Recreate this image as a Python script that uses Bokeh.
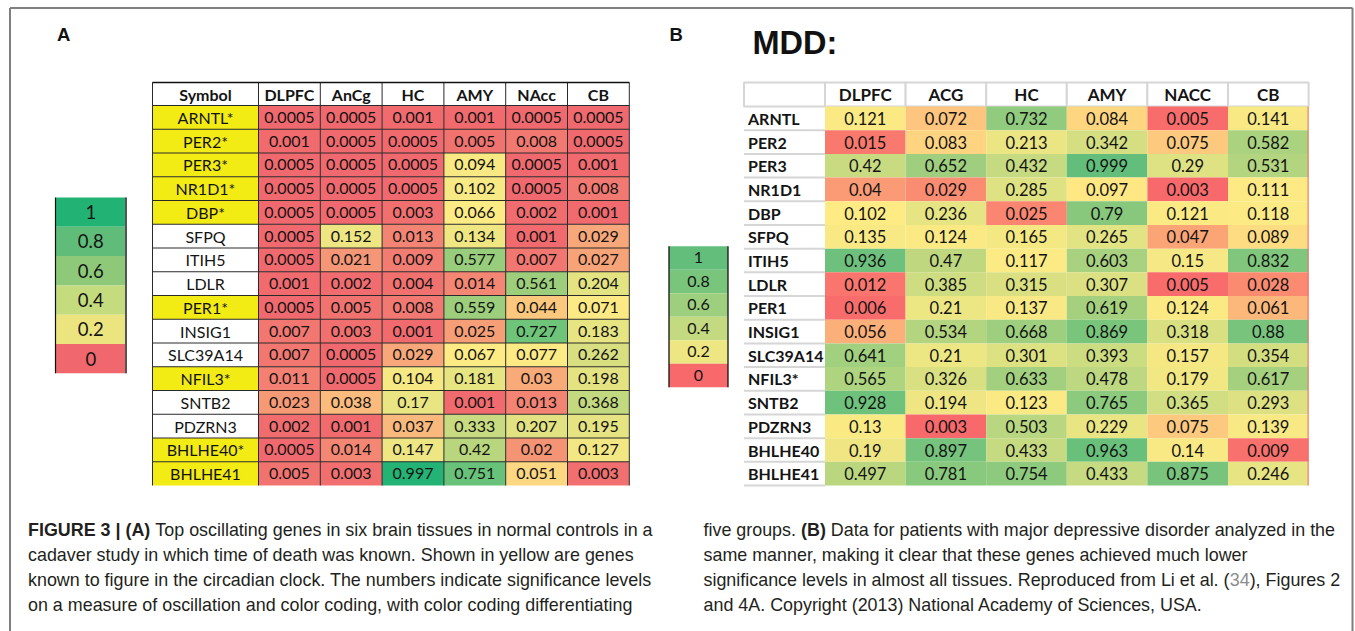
import numpy as np
from bokeh.plotting import figure
from bokeh.models import Range1d, ColumnDataSource
from bokeh.core.properties import value
from bokeh.embed import file_html
from bokeh.resources import INLINE

# ---------------- data ----------------
tissues_A = ["DLPFC", "AnCg", "HC", "AMY", "NAcc", "CB"]
genes_A = ["ARNTL*", "PER2*", "PER3*", "NR1D1*", "DBP*", "SFPQ", "ITIH5", "LDLR",
           "PER1*", "INSIG1", "SLC39A14", "NFIL3*", "SNTB2", "PDZRN3", "BHLHE40*", "BHLHE41"]
clock_A = [True, True, True, True, True, False, False, False,
           True, False, False, True, False, False, True, True]
vals_A = [
    [0.0005, 0.0005, 0.001, 0.001, 0.0005, 0.0005],
    [0.001, 0.0005, 0.0005, 0.005, 0.008, 0.0005],
    [0.0005, 0.0005, 0.0005, 0.094, 0.0005, 0.001],
    [0.0005, 0.0005, 0.0005, 0.102, 0.0005, 0.008],
    [0.0005, 0.0005, 0.003, 0.066, 0.002, 0.001],
    [0.0005, 0.152, 0.013, 0.134, 0.001, 0.029],
    [0.0005, 0.021, 0.009, 0.577, 0.007, 0.027],
    [0.001, 0.002, 0.004, 0.014, 0.561, 0.204],
    [0.0005, 0.005, 0.008, 0.559, 0.044, 0.071],
    [0.007, 0.003, 0.001, 0.025, 0.727, 0.183],
    [0.007, 0.0005, 0.029, 0.067, 0.077, 0.262],
    [0.011, 0.0005, 0.104, 0.181, 0.03, 0.198],
    [0.023, 0.038, 0.17, 0.001, 0.013, 0.368],
    [0.002, 0.001, 0.037, 0.333, 0.207, 0.195],
    [0.0005, 0.014, 0.147, 0.42, 0.02, 0.127],
    [0.005, 0.003, 0.997, 0.751, 0.051, 0.003],
]

tissues_B = ["DLPFC", "ACG", "HC", "AMY", "NACC", "CB"]
genes_B = ["ARNTL", "PER2", "PER3", "NR1D1", "DBP", "SFPQ", "ITIH5", "LDLR",
           "PER1", "INSIG1", "SLC39A14", "NFIL3*", "SNTB2", "PDZRN3", "BHLHE40", "BHLHE41"]
vals_B = [
    [0.121, 0.072, 0.732, 0.084, 0.005, 0.141],
    [0.015, 0.083, 0.213, 0.342, 0.075, 0.582],
    [0.42, 0.652, 0.432, 0.999, 0.29, 0.531],
    [0.04, 0.029, 0.285, 0.097, 0.003, 0.111],
    [0.102, 0.236, 0.025, 0.79, 0.121, 0.118],
    [0.135, 0.124, 0.165, 0.265, 0.047, 0.089],
    [0.936, 0.47, 0.117, 0.603, 0.15, 0.832],
    [0.012, 0.385, 0.315, 0.307, 0.005, 0.028],
    [0.006, 0.21, 0.137, 0.619, 0.124, 0.061],
    [0.056, 0.534, 0.668, 0.869, 0.318, 0.88],
    [0.641, 0.21, 0.301, 0.393, 0.157, 0.354],
    [0.565, 0.326, 0.633, 0.478, 0.179, 0.617],
    [0.928, 0.194, 0.123, 0.765, 0.365, 0.293],
    [0.13, 0.003, 0.503, 0.229, 0.075, 0.139],
    [0.19, 0.897, 0.433, 0.963, 0.14, 0.009],
    [0.497, 0.781, 0.754, 0.433, 0.875, 0.246],
]

legend_levels = ["1", "0.8", "0.6", "0.4", "0.2", "0"]
legend_colors_A = ["#22b374", "#60bc79", "#8dc978", "#c4db7e", "#ece57f", "#f0686e"]
legend_colors_B = ["#63be7b", "#7ac57c", "#9ecf7e", "#c4da80", "#ede683", "#f8696b"]

# colour-scale stops (styling)
stops_A = ([0.0, 0.06, 0.56, 1.0], ["#f0686e", "#ffeb84", "#9dce7c", "#22b374"])
stops_B = ([0.003, 0.1, 1.0], ["#f8696b", "#ffeb84", "#63be7b"])

caption_left = [
    [("FIGURE 3 | (A)", "b"), (" Top oscillating genes in six brain tissues in normal controls in a", "r")],
    [("cadaver study in which time of death was known. Shown in yellow are genes", "r")],
    [("known to figure in the circadian clock. The numbers indicate significance levels", "r")],
    [("on a measure of oscillation and color coding, with color coding differentiating", "r")],
]
caption_right = [
    [("five groups. ", "r"), ("(B)", "b"), (" Data for patients with major depressive disorder analyzed in the", "r")],
    [("same manner, making it clear that these genes achieved much lower", "r")],
    [("significance levels in almost all tissues. Reproduced from Li et al. (", "r"), ("34", "g"), ("), Figures 2", "r")],
    [("and 4A. Copyright (2013) National Academy of Sciences, USA.", "r")],
]


# ---------------- helpers ----------------
def hex2rgb(h):
    return tuple(int(h[i:i + 2], 16) for i in (1, 3, 5))


def ramp(v, stops):
    xs, cols = stops
    rgbs = [hex2rgb(c) for c in cols]
    if v <= xs[0]:
        return cols[0]
    for k in range(len(xs) - 1):
        if v <= xs[k + 1]:
            t = (v - xs[k]) / (xs[k + 1] - xs[k])
            c = [int(round(a + (b - a) * t)) for a, b in zip(rgbs[k], rgbs[k + 1])]
            return "#%02x%02x%02x" % tuple(c)
    return cols[-1]


# Arial / Liberation Sans advance widths (1/1000 em)
AR = {' ': 278, '!': 278, '"': 355, '#': 556, '$': 556, '%': 889, '&': 667, "'": 191, '(': 333, ')': 333,
      '*': 389, '+': 584, ',': 278, '-': 333, '.': 278, '/': 278, ':': 278, ';': 278, '?': 556, '|': 260}
for ch in "0123456789":
    AR[ch] = 556
for ch, w in zip("ABCDEFGHIJKLMNOPQRSTUVWXYZ",
                 [667, 667, 722, 722, 667, 611, 778, 722, 278, 500, 667, 556, 833, 722, 778, 667, 778, 722,
                  667, 611, 722, 667, 944, 667, 667, 611]):
    AR[ch] = w
for ch, w in zip("abcdefghijklmnopqrstuvwxyz",
                 [556, 556, 500, 556, 556, 278, 556, 556, 222, 222, 500, 222, 833, 556, 556, 556, 556, 333,
                  500, 278, 556, 500, 722, 500, 500, 500]):
    AR[ch] = w
AB = dict(AR)
AB.update({'|': 280, '!': 333})
for ch in "ABCDKNRUVXY":
    AB[ch] = 722 if ch in "ABCDNRU" else 667


def tw(s, bold, size):
    tbl = AB if bold else AR
    return sum(tbl.get(c, 556) for c in s) * size / 1000.0


def fmt(v):
    return repr(v)


# ---------------- figure (data units == screen pixels) ----------------
W, H = 1355, 631
p = figure(width=W, height=H, x_range=Range1d(0, W), y_range=Range1d(H, 0),
           output_backend="svg", toolbar_location=None, tools="", min_border=0,
           x_axis_location=None, y_axis_location=None, title=None)
p.grid.visible = False
p.outline_line_color = None
p.background_fill_color = "white"
p.border_fill_color = "white"

TF = value("Lato")
CF = value("Liberation Sans")
INK = "#141414"

# outer frame
p.segment(x0=[9.5, 9.5, 1352], y0=[7.5, 7.5, 7.5], x1=[1352, 9.5, 1352], y1=[7.5, 640, 640],
          line_color="#7f7f7f", line_width=2)

# ---------------- Table A ----------------
nA, mA = len(genes_A), len(tissues_A)
A_x0, A_sym_w, A_col_w = 152.0, 106.0, 61.8
A_y0, A_head_h, A_row_h = 82.0, 23.0, 23.75
A_right = A_x0 + A_sym_w + mA * A_col_w
A_body = A_y0 + A_head_h
A_bottom = A_body + nA * A_row_h

cl, cr, ct, cb, cc, tx, ty, tt = [], [], [], [], [], [], [], []
for i in range(nA):
    for j in range(mA):
        l = A_x0 + A_sym_w + j * A_col_w
        t = A_body + i * A_row_h
        cl.append(l); cr.append(l + A_col_w); ct.append(t); cb.append(t + A_row_h)
        cc.append(ramp(vals_A[i][j], stops_A))
        tx.append(l + A_col_w / 2); ty.append(t + A_row_h / 2); tt.append(fmt(vals_A[i][j]))
p.quad(left=cl, right=cr, top=ct, bottom=cb, fill_color=cc, line_color=None)
# symbol column
p.quad(left=[A_x0] * nA, right=[A_x0 + A_sym_w] * nA,
       top=[A_body + i * A_row_h for i in range(nA)],
       bottom=[A_body + (i + 1) * A_row_h for i in range(nA)],
       fill_color=["#f3eb14" if c else "white" for c in clock_A], line_color=None)
# grid
vx = [A_x0, A_x0 + A_sym_w] + [A_x0 + A_sym_w + (j + 1) * A_col_w for j in range(mA)]
p.segment(x0=vx, y0=[A_y0] * len(vx), x1=vx, y1=[A_bottom] * len(vx), line_color="#2a2a2a", line_width=1)
hy = [A_y0, A_body] + [A_body + (i + 1) * A_row_h for i in range(nA - 1)]
p.segment(x0=[A_x0] * len(hy), y0=hy, x1=[A_right] * len(hy), y1=hy, line_color="#2a2a2a", line_width=1)
p.segment(x0=[A_x0], y0=[A_y0], x1=[A_right], y1=[A_y0], line_color="#111111", line_width=1.6)
# texts
p.text(x=tx, y=ty, text=tt, text_font=TF, text_font_size="16px", text_align="center",
       text_baseline="middle", text_color=INK)
p.text(x=[A_x0 + A_sym_w / 2] * nA, y=[A_body + (i + 0.5) * A_row_h for i in range(nA)], text=genes_A,
       text_font=TF, text_font_size="16px", text_align="center", text_baseline="middle", text_color=INK)
p.text(x=[A_x0 + A_sym_w / 2] + [A_x0 + A_sym_w + (j + 0.5) * A_col_w for j in range(mA)],
       y=[A_y0 + A_head_h / 2] * (mA + 1), text=["Symbol"] + tissues_A,
       text_font=TF, text_font_size="16px", text_font_style="bold", text_align="center",
       text_baseline="middle", text_color=INK)

# ---------------- Legend A ----------------
LA_x0, LA_x1, LA_y0, LA_h = 55.0, 125.5, 197.0, 29.3
nL = len(legend_levels)
p.quad(left=[LA_x0] * nL, right=[LA_x1] * nL, top=[LA_y0 + k * LA_h for k in range(nL)],
       bottom=[LA_y0 + (k + 1) * LA_h for k in range(nL)], fill_color=legend_colors_A, line_color=None)
p.segment(x0=[LA_x0, LA_x1], y0=[LA_y0, LA_y0], x1=[LA_x0, LA_x1], y1=[LA_y0 + nL * LA_h] * 2,
          line_color=["#111111", "#555555"], line_width=[1.2, 2])
p.text(x=[(LA_x0 + LA_x1) / 2] * nL, y=[LA_y0 + (k + 0.5) * LA_h for k in range(nL)], text=legend_levels,
       text_font=TF, text_font_size="18.5px", text_align="center", text_baseline="middle", text_color=INK)

# ---------------- Table B ----------------
nB, mB = len(genes_B), len(tissues_B)
B_x0, B_lab_w, B_col_w = 743.5, 81.0, 80.6
B_y0, B_head_h, B_row_h = 82.0, 24.0, 23.69
B_right = B_x0 + B_lab_w + mB * B_col_w
B_body = B_y0 + B_head_h
B_bottom = B_body + nB * B_row_h

# header cells
hl = [B_x0] + [B_x0 + B_lab_w + j * B_col_w for j in range(mB)]
hr = [B_x0 + B_lab_w] + [B_x0 + B_lab_w + (j + 1) * B_col_w for j in range(mB)]
p.quad(left=hl, right=hr, top=[B_y0] * (mB + 1), bottom=[B_body] * (mB + 1),
       fill_color="white", line_color="#d6d6d6", line_width=2)
cl, cr, ct, cb, cc, tx, ty, tt = [], [], [], [], [], [], [], []
for i in range(nB):
    for j in range(mB):
        l = B_x0 + B_lab_w + j * B_col_w
        t = B_body + i * B_row_h
        cl.append(l); cr.append(l + B_col_w); ct.append(t); cb.append(t + B_row_h)
        cc.append(ramp(vals_B[i][j], stops_B))
        tx.append(l + B_col_w / 2); ty.append(t + B_row_h / 2); tt.append(fmt(vals_B[i][j]))
p.quad(left=cl, right=cr, top=ct, bottom=cb, fill_color=cc, line_color=None)
# label separators
sy = [B_body + (i + 1) * B_row_h for i in range(nB)]
p.segment(x0=[B_x0] * nB, y0=sy, x1=[B_x0 + B_lab_w] * nB, y1=sy, line_color="#d6d6d6", line_width=2)
p.segment(x0=[B_right - 0.5], y0=[B_body], x1=[B_right - 0.5], y1=[B_bottom], line_color="#f06a6a", line_width=1)
p.text(x=tx, y=ty, text=tt, text_font=TF, text_font_size="16.5px", text_align="center",
       text_baseline="middle", text_color=INK)
p.text(x=[B_x0 + 4] * nB, y=[B_body + (i + 0.5) * B_row_h for i in range(nB)], text=genes_B,
       text_font=TF, text_font_size="16px", text_font_style="bold", text_align="left",
       text_baseline="middle", text_color=INK)
p.text(x=[B_x0 + B_lab_w + (j + 0.5) * B_col_w for j in range(mB)], y=[B_y0 + B_head_h / 2] * mB,
       text=tissues_B, text_font=TF, text_font_size="17px", text_font_style="bold", text_align="center",
       text_baseline="middle", text_color=INK)

# ---------------- Legend B ----------------
LB_x0, LB_x1, LB_y0, LB_h = 668.5, 727.5, 245.7, 23.5
p.quad(left=[LB_x0] * nL, right=[LB_x1] * nL, top=[LB_y0 + k * LB_h for k in range(nL)],
       bottom=[LB_y0 + (k + 1) * LB_h for k in range(nL)], fill_color=legend_colors_B, line_color=None)
p.segment(x0=[LB_x0, LB_x1], y0=[LB_y0, LB_y0], x1=[LB_x0, LB_x1], y1=[LB_y0 + nL * LB_h] * 2,
          line_color="#111111", line_width=1.3)
p.text(x=[(LB_x0 + LB_x1) / 2] * nL, y=[LB_y0 + (k + 0.5) * LB_h for k in range(nL)], text=legend_levels,
       text_font=TF, text_font_size="16px", text_align="center", text_baseline="middle", text_color=INK)

# ---------------- panel labels ----------------
p.text(x=[56.5, 669], y=[33.5, 34], text=["A", "B"], text_font=CF, text_font_size="18.5px",
       text_font_style="bold", text_align="left", text_baseline="middle", text_color="#111111")
p.text(x=[752], y=[42.5], text=["MDD:"], text_font=CF, text_font_size="32.5px",
       text_font_style="bold", text_align="left", text_baseline="middle", text_color="#111111")

# ---------------- caption ----------------
cap_size = 17.9
centers = [529.0, 554.0, 579.0, 604.0]
runs = {"r": ([], [], []), "b": ([], [], []), "g": ([], [], [])}
for x0, lines in ((27.5, caption_left), (703.0, caption_right)):
    for k, line in enumerate(lines):
        x = x0
        for s, st in line:
            lead = len(s) - len(s.lstrip(" "))
            xs_ = x + tw(" " * lead, st == "b", cap_size)
            runs[st][0].append(xs_); runs[st][1].append(centers[k]); runs[st][2].append(s.strip(" "))
            x += tw(s, st == "b", cap_size)
styles = {"r": ("normal", "#231f20"), "b": ("bold", "#231f20"), "g": ("normal", "#8c8c8c")}
for st, (xs, ys, ts) in runs.items():
    if xs:
        p.text(x=xs, y=ys, text=ts, text_font=CF, text_font_size="%spx" % cap_size,
               text_font_style=styles[st][0], text_color=styles[st][1],
               text_align="left", text_baseline="middle")

open("out.html", "w").write(file_html(p, INLINE))
